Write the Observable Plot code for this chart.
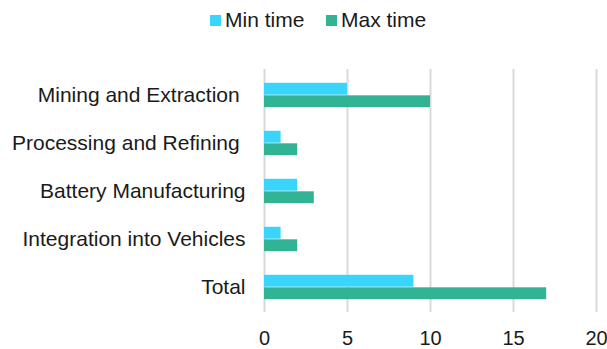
<!DOCTYPE html>
<html>
<head>
<meta charset="utf-8">
<script src="https://cdn.jsdelivr.net/npm/d3@7"></script>
<script src="https://cdn.jsdelivr.net/npm/@observablehq/plot@0.6"></script>
<style>
  body { margin: 0; background: #fff; font-family: "Liberation Sans", Arial, sans-serif; }
  #wrap { position: relative; width: 607px; height: 349px; }
  #legend { position: relative; height: 40px; font-size: 21px; color: #1a1a1a; }
  .item { position: absolute; top: 7px; display: flex; align-items: center; height: 26px; }
  .swatch { width: 11px; height: 11px; margin-right: 4px; }
  svg { display: block; }
  svg text { white-space: pre; }
</style>
</head>
<body>
<div id="wrap">
  <div id="legend"></div>
  <div id="chart"></div>
</div>
<script>
// Supply-chain stages and their time ranges
const categories = ["Mining and Extraction ", "Processing and Refining ", "Battery Manufacturing", "Integration into Vehicles", "Total"];
const minTime = [5, 1, 2, 1, 9];
const maxTime = [10, 2, 3, 2, 17];
const seriesNames = ["Min time", "Max time"];
const seriesColors = ["#38d6ff", "#32b394"];
const xTicks = [0, 5, 10, 15, 20];

const rows = categories.map((c, i) => ({stage: c, min: minTime[i], max: maxTime[i]}));

// Legend
const legend = document.getElementById("legend");
const legendX = [210, 326];
seriesNames.forEach((name, i) => {
  const item = document.createElement("div");
  item.className = "item";
  item.style.left = legendX[i] + "px";
  item.innerHTML = `<span class="swatch" style="background:${seriesColors[i]}"></span><span>${name}</span>`;
  legend.appendChild(item);
});

const bandHalf = 243 / categories.length / 2;
const barH = 12.5;

const chart = Plot.plot({
  width: 607,
  height: 309,
  marginTop: 29,
  marginBottom: 37,
  marginLeft: 264,
  marginRight: 11,
  style: {fontFamily: "'Liberation Sans', Arial, sans-serif", fontSize: "21px", color: "#1a1a1a", background: "#fff"},
  x: {domain: [0, 20]},
  y: {domain: categories, padding: 0},
  marks: [
    Plot.gridX(xTicks, {stroke: "#d9d9d9", strokeWidth: 2, strokeOpacity: 1}),
    Plot.barX(rows, {y: "stage", x: "min", fill: seriesColors[0],
      insetTop: bandHalf - barH, insetBottom: bandHalf}),
    Plot.barX(rows, {y: "stage", x: "max", fill: seriesColors[1],
      insetTop: bandHalf, insetBottom: bandHalf - barH}),
    Plot.axisX(xTicks, {tickSize: 0, tickPadding: 18, label: null, fontSize: 20}),
    Plot.axisY({tickSize: 0, tickPadding: 19, label: null, fontSize: 21})
  ]
});
document.getElementById("chart").appendChild(chart);
</script>
</body>
</html>
